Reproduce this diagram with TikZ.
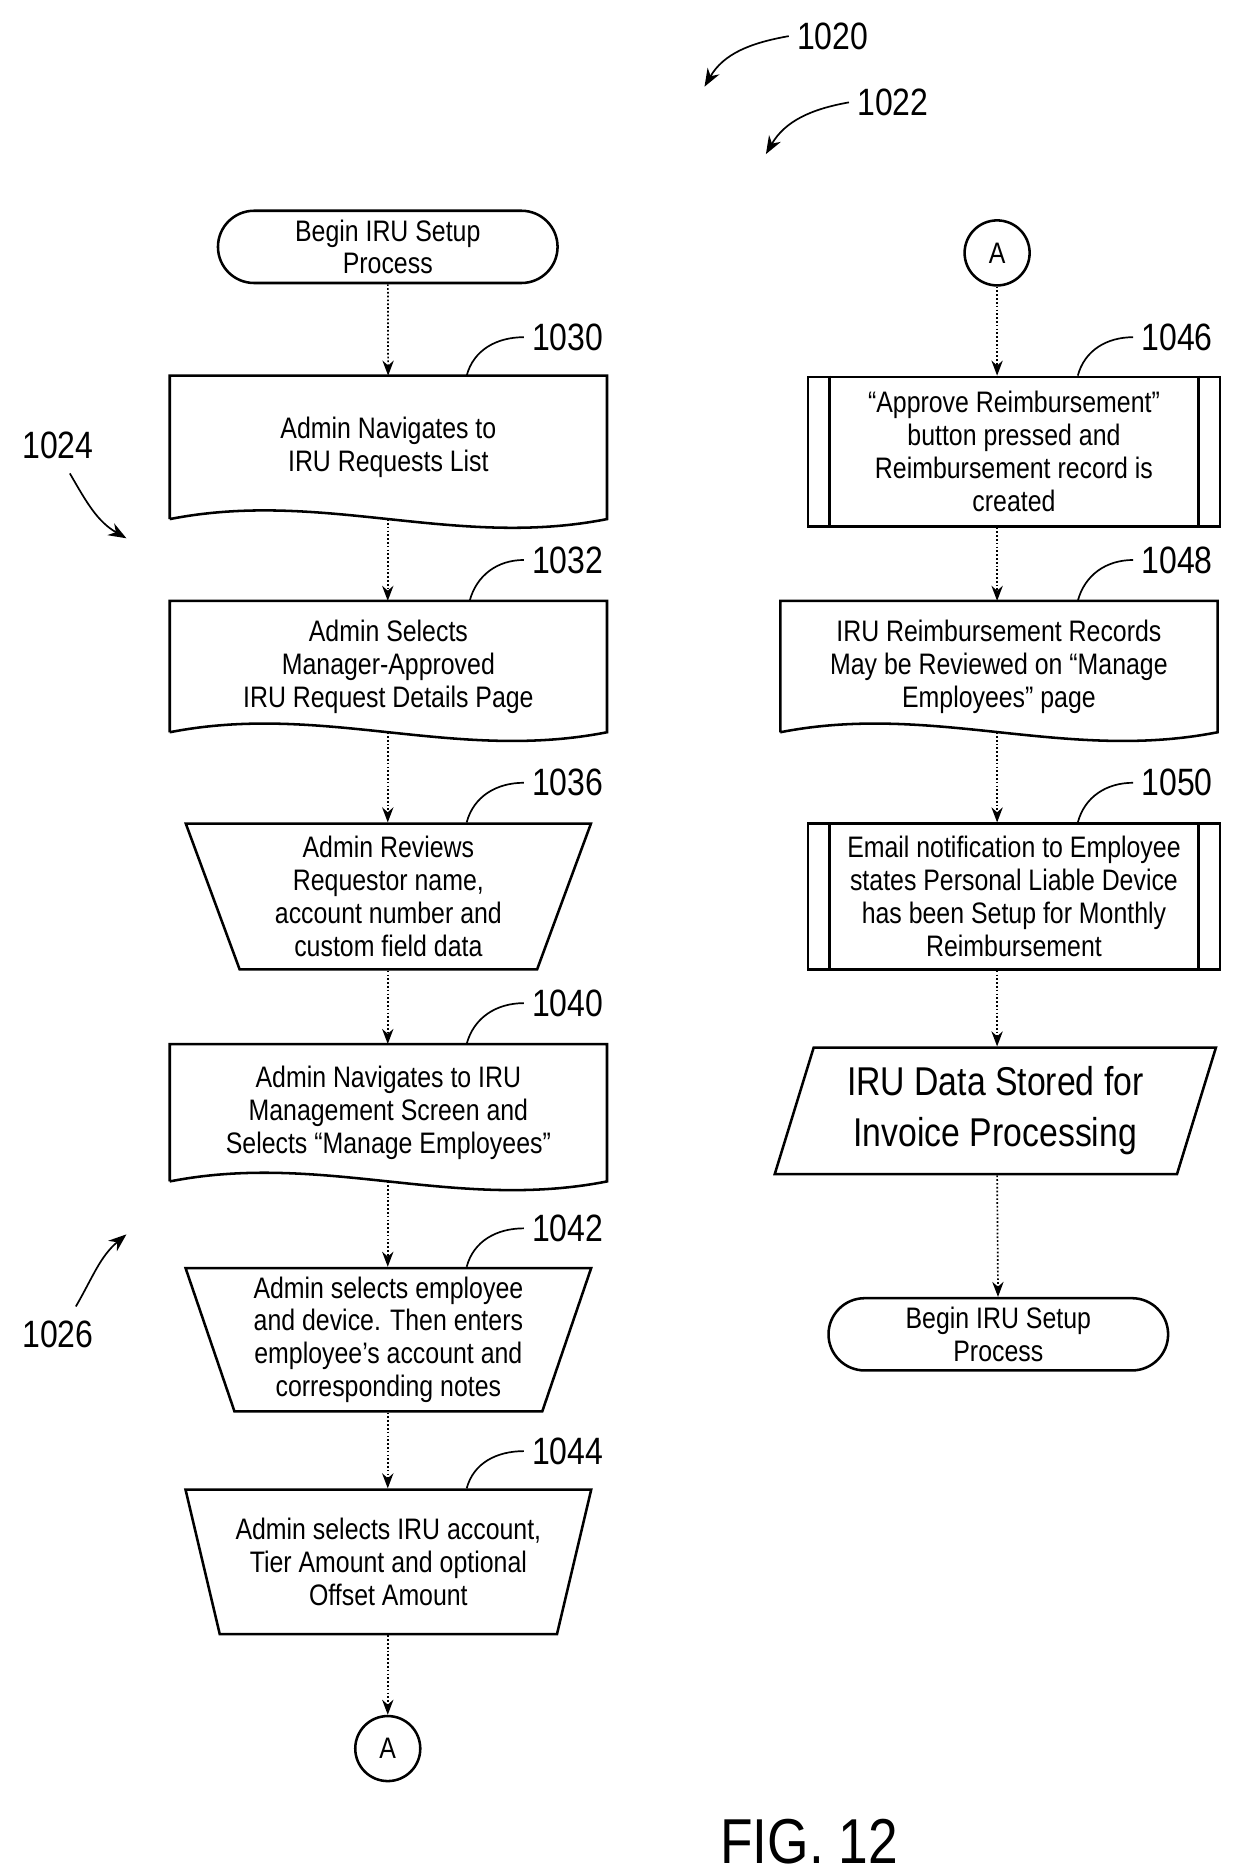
\documentclass[tikz,border=0pt]{standalone}
\usepackage{fontspec}
\setmainfont{Liberation Sans}
\newfontfamily\boxfont[FakeStretch=0.84, Ligatures=TeX]{Liberation Sans}
\usetikzlibrary{shapes.geometric,positioning,calc,arrows.meta}
\begin{document}
\begin{tikzpicture}[
                line width = 1.2pt,
                txt/.style = {font = \boxfont\fontsize{14}{15.5}\selectfont, align = center},
                term/.style = {draw, txt, rounded corners = 0.6cm, minimum width = 5.64cm, minimum height = 1.2cm},
                doc/.style = {txt, minimum width = 7.22cm,
                    append after command = {\pgfextra{\draw (\tikzlastnode.south west) -- (\tikzlastnode.north west)
                        -- (\tikzlastnode.north east) -- (\tikzlastnode.south east)
                        .. controls ($(\tikzlastnode.south east)!0.35!(\tikzlastnode.south west)+(0,-0.5)$)
                        and ($(\tikzlastnode.south east)!0.65!(\tikzlastnode.south west)+(0,0.5)$) .. (\tikzlastnode.south west);}}},
                manop/.style = {draw, txt, trapezium, shape border rotate = 180, inner xsep = 0pt,
                    trapezium left angle = 73, trapezium right angle = 73, trapezium stretches = true,
                    minimum width = 6.74cm},
                pred/.style = {draw, txt, minimum width = 6.84cm,
                    append after command = {\pgfextra{
                        \draw ($(\tikzlastnode.north west)+(0.38,0)$) -- ($(\tikzlastnode.south west)+(0.38,0)$);
                        \draw ($(\tikzlastnode.north east)+(-0.38,0)$) -- ($(\tikzlastnode.south east)+(-0.38,0)$);}}},
                io/.style = {draw, font = \boxfont\fontsize{19}{24}\selectfont, align = center, trapezium,
                    trapezium left angle = 72, trapezium right angle = 108, trapezium stretches = true,
                    minimum width = 7.34cm, minimum height = 2.1cm},
                conn/.style = {draw, circle, txt, minimum size = 1.08cm, inner sep = 0pt},
                num/.style = {font = \boxfont\fontsize{18}{20}\selectfont, anchor = west},
                arr/.style = {draw, line width = 0.8pt, densely dotted, -{Stealth[length = 2.5mm]}},
                lead/.style = {draw, line width = 0.8pt},
            ]
            \useasboundingbox (0, 0) rectangle (20.48, -31.14);

            % left column
            \node (begin) at (6.44, -4.1) [term] {Begin IRU Setup\\Process};
            \node (n1030) at (6.45, -7.43) [doc, minimum height = 2.34cm] {Admin Navigates to\\IRU Requests List};
            \node (n1032) at (6.45, -11.07) [doc, minimum height = 2.14cm] {Admin Selects\\Manager-Approved\\IRU Request Details Page};
            \node (n1036) at (6.45, -14.89) [manop, minimum height = 2.42cm] {Admin Reviews\\Requestor name,\\account number and\\custom field data};
            \node (n1040) at (6.45, -18.48) [doc, minimum height = 2.24cm] {Admin Navigates to IRU\\Management Screen and\\Selects ``Manage Employees''};
            \node (n1042) at (6.45, -22.25) [manop, minimum height = 2.38cm] {Admin selects employee\\and device. Then enters\\employee's account and\\corresponding notes};
            \node (n1044) at (6.45, -25.94) [manop, minimum height = 2.4cm] {Admin selects IRU account,\\Tier Amount and optional\\Offset Amount};
            \node (A1) at (6.44, -29.04) [conn] {A};

            % right column
            \node (A2) at (16.56, -4.2) [conn] {A};
            \node (n1046) at (16.84, -7.5) [pred, minimum height = 2.48cm] {``Approve Reimbursement''\\button pressed and\\Reimbursement record is\\created};
            \node (n1048) at (16.59, -11.07) [doc, minimum height = 2.14cm] {IRU Reimbursement Records\\May be Reviewed on ``Manage\\Employees'' page};
            \node (n1050) at (16.84, -14.89) [pred, minimum height = 2.42cm] {Email notification to Employee\\states Personal Liable Device\\has been Setup for Monthly\\Reimbursement};
            \node (stored) at (16.53, -18.45) [io] {IRU Data Stored for\\Invoice Processing};
            \node (end) at (16.58, -22.16) [term] {Begin IRU Setup\\Process};

            \path[arr] (begin) -- (n1030);
            \path[arr] (n1030.south -| begin) -- (n1032.north -| begin);
            \path[arr] (n1032.south -| begin) -- (n1036.north -| begin);
            \path[arr] (n1036.south -| begin) -- (n1040.north -| begin);
            \path[arr] (n1040.south -| begin) -- (n1042.north -| begin);
            \path[arr] (n1042.south -| begin) -- (n1044.north -| begin);
            \path[arr] (n1044.south -| A1) -- (A1);
            \path[arr] (A2) -- (n1046.north -| A2);
            \path[arr] (n1046.south -| A2) -- (n1048.north -| A2);
            \path[arr] (n1048.south -| A2) -- (n1050.north -| A2);
            \path[arr] (n1050.south -| A2) -- (stored.north -| A2);
            \path[arr] (stored.south -| A2) -- (end);

            % reference numbers
            \node (l1030) at (8.7, -5.6) [num] {1030};
            \node (l1032) at (8.7, -9.3) [num] {1032};
            \node (l1036) at (8.7, -13.0) [num] {1036};
            \node (l1040) at (8.7, -16.66) [num] {1040};
            \node (l1042) at (8.7, -20.4) [num] {1042};
            \node (l1044) at (8.7, -24.1) [num] {1044};
            \node (l1046) at (18.82, -5.6) [num] {1046};
            \node (l1048) at (18.82, -9.3) [num] {1048};
            \node (l1050) at (18.82, -13.0) [num] {1050};
            \path[lead] (l1030.west) to[out = 180, in = 75] ($(n1030.north)+(1.3, 0)$);
            \path[lead] (l1032.west) to[out = 180, in = 75] ($(n1032.north)+(1.35, 0)$);
            \path[lead] (l1036.west) to[out = 180, in = 75] ($(n1036.north)+(1.3, 0)$);
            \path[lead] (l1040.west) to[out = 180, in = 75] ($(n1040.north)+(1.3, 0)$);
            \path[lead] (l1042.west) to[out = 180, in = 75] ($(n1042.north)+(1.3, 0)$);
            \path[lead] (l1044.west) to[out = 180, in = 75] ($(n1044.north)+(1.3, 0)$);
            \path[lead] (l1046.west) to[out = 180, in = 75] ($(n1046.north)+(1.06, 0)$);
            \path[lead] (l1048.west) to[out = 180, in = 75] ($(n1048.north)+(1.31, 0)$);
            \path[lead] (l1050.west) to[out = 180, in = 75] ($(n1050.north)+(1.06, 0)$);

            \node (l1020) at (13.1, -0.6) [num] {1020};
            \node (l1022) at (14.1, -1.7) [num] {1022};
            \node (l1024) at (0.96, -7.4) [num, anchor = center] {1024};
            \node (l1026) at (0.96, -22.16) [num, anchor = center] {1026};
            \coordinate (p1020) at (11.7, -1.44);
            \coordinate (p1022) at (12.72, -2.56);
            \coordinate (p1024) at (2.1, -8.94);
            \coordinate (p1026) at (2.1, -20.5);
            \path[lead, -{Stealth[length = 3mm]}] (l1020.west) to[out = 190, in = 60] (p1020);
            \path[lead, -{Stealth[length = 3mm]}] (l1022.west) to[out = 190, in = 60] (p1022);
            \path[lead, -{Stealth[length = 3mm]}] ($(l1024.south)+(0.2, -0.1)$) to[out = -60, in = 150] (p1024);
            \path[lead, -{Stealth[length = 3mm]}] ($(l1026.north)+(0.3, 0.1)$) to[out = 60, in = 220] (p1026);

            \node (fig) at (13.44, -30.95) [anchor = base, font = \boxfont\fontsize{30}{34}\selectfont] {FIG. 12};
        \end{tikzpicture}
\end{document}
